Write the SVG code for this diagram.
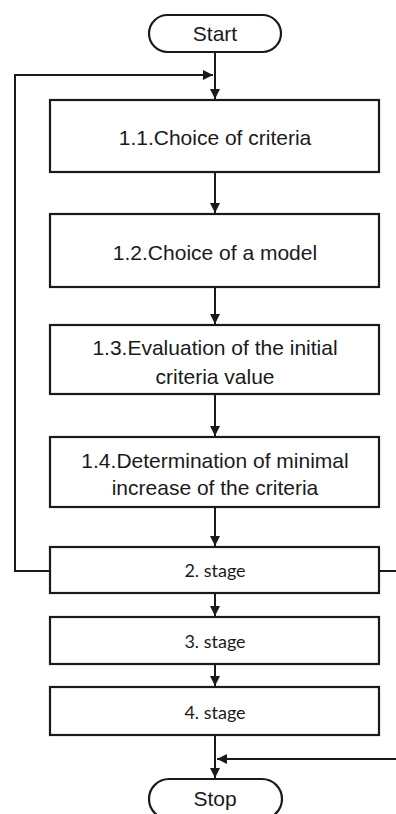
<svg xmlns="http://www.w3.org/2000/svg" width="396" height="814" viewBox="0 0 396 814">
<style>
.box{fill:#fff;stroke:#1a1a1a;stroke-width:2.2}
.ln{fill:none;stroke:#1a1a1a;stroke-width:2}
.t1{font-family:"Liberation Sans",Arial,sans-serif;font-size:21px;fill:#1a1a1a;text-anchor:middle}
.t2{font-family:Lato,"Open Sans",sans-serif;font-size:18px;fill:#1a1a1a;text-anchor:middle}
</style>
<defs>
<marker id="ah" viewBox="0 0 10 10" refX="10" refY="5" markerWidth="10" markerHeight="10" markerUnits="userSpaceOnUse" orient="auto">
<path d="M0,0 L10,5 L0,10 z" fill="#1a1a1a"/>
</marker>
</defs>
<g id="connectors">
<path class="ln" d="M215,52 V99" marker-end="url(#ah)"/>
<path class="ln" d="M50,571 H15 V75 H213" marker-end="url(#ah)"/>
<path class="ln" d="M215,172 V213" marker-end="url(#ah)"/>
<path class="ln" d="M215,287 V324" marker-end="url(#ah)"/>
<path class="ln" d="M215,394 V436" marker-end="url(#ah)"/>
<path class="ln" d="M215,507 V546" marker-end="url(#ah)"/>
<path class="ln" d="M379,571 H396"/>
<path class="ln" d="M215,593 V616" marker-end="url(#ah)"/>
<path class="ln" d="M215,664 V686" marker-end="url(#ah)"/>
<path class="ln" d="M215,735 V778" marker-end="url(#ah)"/>
<path class="ln" d="M396,759 H217" marker-end="url(#ah)"/>
</g>
<g id="start">
<rect class="box" x="149" y="15" width="132" height="37" rx="18.5"/>
<text class="t1" x="215" y="41" font-size="18">Start</text>
</g>
<g id="n11">
<rect class="box" x="50" y="100" width="329" height="72"/>
<text class="t1" x="215" y="145">1.1.Choice of criteria</text>
</g>
<g id="n12">
<rect class="box" x="50" y="214" width="329" height="73"/>
<text class="t1" x="215" y="260">1.2.Choice of a model</text>
</g>
<g id="n13">
<rect class="box" x="50" y="325" width="329" height="69"/>
<text class="t1" x="215" y="355">1.3.Evaluation of the initial</text>
<text class="t1" x="215" y="384">criteria value</text>
</g>
<g id="n14">
<rect class="box" x="50" y="437" width="329" height="70"/>
<text class="t1" x="215" y="468">1.4.Determination of minimal</text>
<text class="t1" x="215" y="495">increase of the criteria</text>
</g>
<g id="s2">
<rect class="box" x="50" y="547" width="329" height="46"/>
<text class="t2" x="215" y="577">2. stage</text>
</g>
<g id="s3">
<rect class="box" x="50" y="617" width="329" height="47"/>
<text class="t2" x="215" y="648">3. stage</text>
</g>
<g id="s4">
<rect class="box" x="50" y="687" width="329" height="48"/>
<text class="t2" x="215" y="719">4. stage</text>
</g>
<g id="stop">
<rect class="box" x="149" y="779" width="133" height="40" rx="20"/>
<text class="t1" x="215" y="806" font-size="18">Stop</text>
</g>
</svg>
